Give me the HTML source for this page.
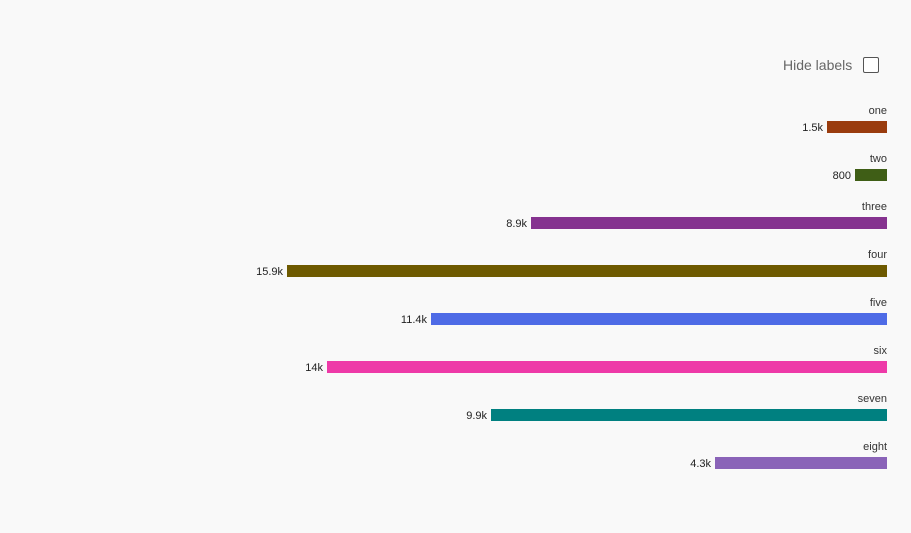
<!DOCTYPE html>
<html><head><meta charset="utf-8"><style>
body{margin:0;background:#fff;font-family:"Liberation Sans",sans-serif}
#wrap{position:absolute;left:0;top:0;width:911px;height:533px;background:#f9f9f9}
#hide{position:absolute;left:783px;top:57px;font-size:14px;color:#666}
#cb{position:absolute;left:863px;top:57px;width:14px;height:14px;border:1px solid #555;border-radius:2px;background:#fff}
</style></head><body>
<div id="wrap">
<div id="hide">Hide labels</div>
<div id="cb"></div>
<svg id="chart" width="911" height="533" style="position:absolute;left:0;top:0"></svg>
</div>
<script>
const categories=["one","two","three","four","five","six","seven","eight"];
const values=[1500,800,8900,15900,11400,14000,9900,4300];
const valueLabels=["1.5k","800","8.9k","15.9k","11.4k","14k","9.9k","4.3k"];
const colors=["#9a3c0e","#3f5e16","#85328f","#6e5a00","#4e6be6","#ee3aa8","#008080","#8a63b8"];
const NS="http://www.w3.org/2000/svg";
const svg=document.getElementById('chart');
const right=887,pxPerUnit=600/15000,top0=121,step=48,bh=12;
function x(v){return right-Math.min(v,15000)*pxPerUnit;}
function y(i){return top0+i*step;}
categories.forEach((c,i)=>{
 const r=document.createElementNS(NS,'rect');
 r.setAttribute('x',x(values[i]));r.setAttribute('y',y(i));
 r.setAttribute('width',right-x(values[i]));r.setAttribute('height',bh);
 r.setAttribute('fill',colors[i]);
 
 
 svg.appendChild(r);
 const t=document.createElementNS(NS,'text');
 t.setAttribute('x',right);t.setAttribute('y',y(i)-7);
 t.setAttribute('text-anchor','end');t.setAttribute('font-size','11');t.setAttribute('fill','#333');
 t.setAttribute('font-family','Liberation Sans, sans-serif');
 t.textContent=c;
 
 
 svg.appendChild(t);
 const v=document.createElementNS(NS,'text');
 v.setAttribute('x',x(values[i])-4);v.setAttribute('y',y(i)+10);
 v.setAttribute('text-anchor','end');v.setAttribute('font-size','11');v.setAttribute('fill','#222');
 v.setAttribute('font-family','Liberation Sans, sans-serif');
 v.textContent=valueLabels[i];
 
 
 svg.appendChild(v);
});
</script>
</body></html>
